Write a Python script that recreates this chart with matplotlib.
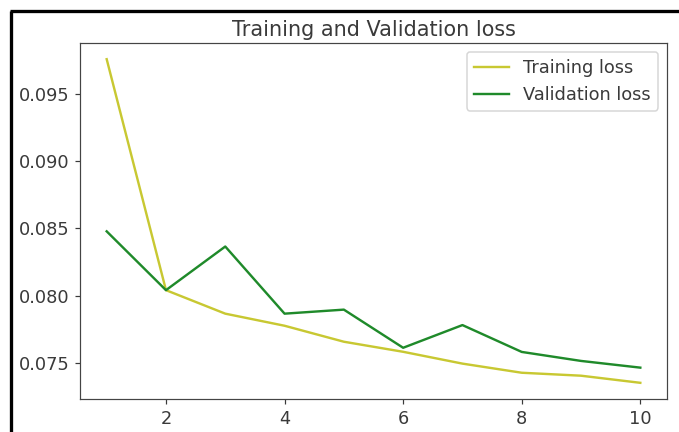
import numpy as np
import matplotlib
matplotlib.use('Agg')
from matplotlib import pyplot as plt
from matplotlib.lines import Line2D

#Loss values
epochs = [1, 2, 3, 4, 5, 6, 7, 8, 9, 10]
loss = [0.0976, 0.0804, 0.07865, 0.07775, 0.07656, 0.07581, 0.07493, 0.07425, 0.07403, 0.0735]
val_loss = [0.08478, 0.0804, 0.08365, 0.07865, 0.07895, 0.07611, 0.0778, 0.0758, 0.07513, 0.07463]

#Screenshot looks a bit soft, so grey text and spines
plt.rcParams['font.size'] = 11.8
plt.rcParams['text.color'] = '#3a3a3a'
plt.rcParams['xtick.color'] = '#3a3a3a'
plt.rcParams['ytick.color'] = '#3a3a3a'
plt.rcParams['axes.edgecolor'] = '#444444'

fig = plt.figure(figsize = (679/108, 432/108), dpi = 108)
ax = fig.add_axes([80/679, 1 - 399/432, 587/679, 356/432])

ax.plot(epochs, loss, color = '#c8c832', linewidth = 1.6, label = 'Training loss')
ax.plot(epochs, val_loss, color = '#1f8a2a', linewidth = 1.6, label = 'Validation loss')
ax.set_title('Training and Validation loss', fontsize = 13.8, pad = 5)
ax.legend(fontsize = 11.8)

#Black frame of the screenshot (left and top edges)
fig.add_artist(Line2D([10.5/679, 10.5/679], [0, 1 - 10.5/432], transform = fig.transFigure,
                      color = 'black', linewidth = 2.2, solid_capstyle = 'butt'))
fig.add_artist(Line2D([9.5/679, 1], [1 - 10.5/432, 1 - 10.5/432], transform = fig.transFigure,
                      color = 'black', linewidth = 2.2, solid_capstyle = 'butt'))

fig.savefig('out.png', dpi = 108)
